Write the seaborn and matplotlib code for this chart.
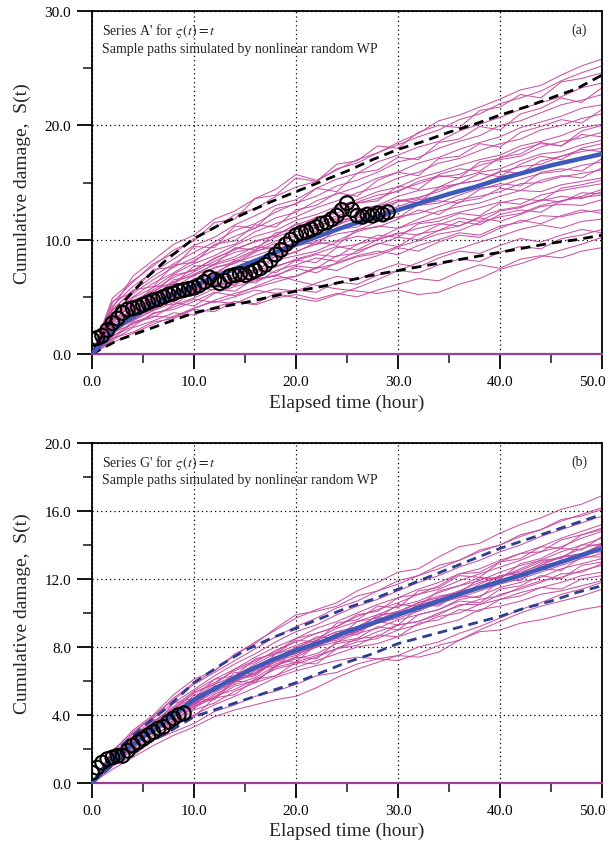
import matplotlib
matplotlib.use("Agg")
import matplotlib.pyplot as plt
from matplotlib.ticker import MultipleLocator, FormatStrFormatter
from matplotlib.transforms import ScaledTranslation
import pandas as pd
import seaborn as sns

# ---------------- data ----------------
T_PATH = [0, 2, 4, 6, 8, 10, 12, 14, 16, 18, 20, 22, 24, 26, 28, 30,
          32, 34, 36, 38, 40, 42, 44, 46, 48, 50]

A_PATHS = [
    [0, 1.2, 2.3, 2.9, 3.6, 3.4, 4.1, 4.6, 4.3, 4.9, 5.2, 4.8, 5.3, 5.0, 5.6, 6.1, 6.6, 6.4, 7.2, 7.8, 7.5, 8.3, 8.6, 8.4, 9.0, 9.3],
    [0, 1.5, 2.8, 3.3, 3.2, 4.0, 4.6, 4.4, 5.2, 5.7, 5.5, 6.2, 6.8, 6.5, 7.3, 7.9, 7.6, 8.4, 9.0, 8.8, 9.5, 10.1, 9.8, 10.4, 10.9, 10.6],
    [0, 1.9, 2.6, 3.5, 4.1, 4.8, 4.5, 5.0, 5.6, 5.3, 4.9, 4.6, 5.2, 5.8, 6.5, 7.3, 8.0, 8.7, 9.2, 9.8, 10.3, 10.9, 11.3, 11.0, 11.6, 11.8],
    [0, 2.0, 2.9, 3.8, 4.5, 4.2, 5.3, 5.9, 6.4, 6.9, 7.5, 7.1, 8.0, 8.6, 9.0, 8.7, 9.5, 10.0, 10.6, 10.4, 11.2, 11.5, 12.1, 12.0, 12.4, 12.6],
    [0, 1.7, 3.2, 3.9, 4.8, 5.4, 5.9, 6.5, 6.2, 7.3, 7.8, 8.4, 8.1, 9.0, 9.6, 10.2, 10.0, 10.8, 11.2, 11.9, 11.6, 12.2, 12.9, 13.1, 13.0, 13.5],
    [0, 2.3, 3.1, 4.2, 4.8, 5.6, 6.1, 6.0, 7.1, 7.6, 8.3, 8.8, 9.4, 9.1, 10.0, 10.5, 11.0, 11.4, 11.2, 12.0, 12.6, 12.9, 13.4, 13.8, 13.6, 14.2],
    [0, 2.6, 3.5, 4.0, 5.1, 5.7, 6.5, 7.0, 7.3, 8.2, 8.6, 9.0, 9.8, 10.3, 10.1, 11.0, 11.5, 11.9, 12.4, 12.8, 13.3, 13.1, 13.9, 14.3, 14.6, 14.9],
    [0, 2.1, 3.6, 4.5, 5.0, 6.1, 6.6, 7.4, 8.0, 8.2, 9.0, 9.6, 9.9, 10.7, 11.2, 11.0, 11.8, 12.5, 12.9, 13.2, 13.8, 14.3, 14.2, 14.8, 15.1, 15.4],
    [0, 2.4, 3.4, 4.6, 5.5, 6.0, 7.0, 7.6, 8.3, 8.5, 9.4, 9.9, 10.5, 10.8, 11.6, 12.0, 12.3, 12.9, 13.5, 13.8, 14.2, 14.9, 15.0, 15.5, 15.8, 16.1],
    [0, 2.8, 3.9, 4.7, 5.9, 6.4, 7.1, 8.0, 8.6, 9.2, 9.6, 10.4, 10.9, 11.4, 11.8, 12.5, 13.0, 13.2, 13.9, 14.5, 14.7, 15.3, 15.8, 16.0, 16.5, 16.8],
    [0, 2.5, 4.0, 5.2, 5.8, 6.9, 7.5, 8.1, 9.0, 9.4, 10.1, 10.5, 11.3, 11.9, 12.2, 12.9, 13.5, 13.8, 14.4, 14.8, 15.5, 15.8, 16.4, 16.7, 17.2, 17.5],
    [0, 3.0, 4.2, 5.0, 6.2, 7.0, 7.8, 8.3, 9.1, 9.9, 10.3, 11.0, 11.7, 12.0, 12.8, 13.3, 13.6, 14.4, 14.9, 15.2, 15.9, 16.4, 16.6, 17.3, 17.7, 18.0],
    [0, 2.9, 4.4, 5.5, 6.3, 7.2, 8.1, 8.9, 9.3, 10.2, 10.9, 11.3, 12.1, 12.6, 13.0, 13.8, 14.3, 14.6, 15.4, 15.9, 16.2, 16.9, 17.5, 17.7, 18.3, 18.7],
    [0, 3.3, 4.6, 5.6, 6.7, 7.4, 8.3, 9.2, 9.8, 10.4, 11.3, 11.9, 12.3, 13.2, 13.6, 14.3, 14.9, 15.5, 15.7, 16.5, 17.0, 17.3, 18.1, 18.6, 18.9, 19.4],
    [0, 3.1, 4.9, 5.8, 7.0, 7.9, 8.6, 9.5, 10.3, 10.8, 11.7, 12.2, 12.9, 13.5, 14.2, 14.6, 15.4, 15.9, 16.5, 17.0, 17.4, 18.2, 18.6, 19.1, 19.8, 20.1],
    [0, 3.6, 5.0, 6.2, 7.1, 8.2, 9.1, 9.6, 10.7, 11.4, 12.0, 12.8, 13.4, 14.1, 14.6, 15.4, 15.9, 16.7, 17.1, 17.8, 18.4, 18.8, 19.6, 20.0, 20.6, 21.0],
    [0, 3.4, 5.3, 6.5, 7.6, 8.4, 9.5, 10.3, 11.0, 11.9, 12.4, 13.4, 14.0, 14.6, 15.4, 15.9, 16.7, 17.2, 17.9, 18.5, 19.0, 19.8, 20.3, 20.8, 21.5, 21.8],
    [0, 3.9, 5.5, 6.8, 7.9, 8.9, 9.8, 10.8, 11.4, 12.4, 13.2, 13.8, 14.7, 15.2, 15.9, 16.8, 17.2, 18.0, 18.6, 19.1, 20.0, 20.4, 21.1, 21.8, 22.2, 22.7],
    [0, 4.2, 5.9, 7.2, 8.3, 9.5, 10.2, 11.3, 12.1, 13.0, 13.5, 14.5, 15.3, 15.8, 16.8, 17.4, 18.1, 18.6, 19.5, 20.1, 20.7, 21.4, 22.0, 22.5, 23.3, 23.7],
    [0, 4.5, 6.3, 7.9, 8.8, 10.1, 11.0, 12.2, 12.7, 13.8, 14.6, 15.1, 16.2, 16.7, 17.6, 18.3, 19.0, 19.6, 20.5, 21.0, 21.9, 22.4, 23.0, 23.9, 24.6, 25.2],
    [0, 4.0, 6.8, 8.2, 9.6, 10.4, 11.8, 12.5, 13.6, 14.4, 15.7, 15.2, 16.1, 17.0, 17.6, 18.5, 19.3, 20.4, 20.9, 21.6, 22.3, 23.1, 23.5, 24.4, 25.2, 25.8],
    [0, 1.0, 1.8, 2.6, 3.3, 4.0, 4.7, 5.3, 5.8, 6.3, 6.8, 7.5, 7.9, 8.5, 8.8, 9.4, 9.9, 10.5, 10.8, 11.5, 12.0, 12.3, 13.0, 13.4, 13.8, 14.4],
    [0, 2.2, 3.0, 3.8, 4.9, 5.5, 6.0, 6.7, 6.5, 6.9, 6.4, 6.0, 5.7, 5.5, 5.3, 5.6, 5.2, 5.4, 6.1, 6.6, 7.4, 7.9, 8.5, 9.1, 9.6, 10.2],
    [0, 1.6, 2.4, 3.6, 3.9, 4.6, 5.4, 5.1, 5.9, 6.6, 6.8, 7.6, 7.3, 8.1, 8.6, 9.3, 9.0, 9.8, 10.4, 10.2, 11.0, 11.7, 11.4, 12.1, 12.6, 12.3],
    [0, 2.4, 2.9, 4.3, 4.6, 5.8, 5.6, 6.7, 7.4, 7.1, 8.2, 8.7, 8.5, 9.6, 10.0, 10.6, 10.4, 11.3, 11.9, 11.6, 12.5, 12.8, 13.5, 13.3, 14.1, 14.0],
    [0, 1.9, 3.8, 4.1, 5.6, 5.4, 6.8, 7.3, 7.1, 8.6, 8.9, 9.8, 9.5, 10.9, 11.1, 11.8, 12.6, 12.2, 13.3, 13.6, 14.5, 14.3, 15.2, 15.6, 15.4, 16.3],
    [0, 3.1, 3.6, 5.1, 5.3, 6.6, 6.9, 8.2, 8.0, 9.1, 9.8, 9.6, 10.9, 11.1, 12.1, 11.9, 13.1, 13.4, 13.2, 14.4, 14.9, 14.7, 15.9, 16.2, 16.0, 17.1],
    [0, 2.7, 4.5, 4.8, 6.5, 6.8, 7.9, 8.5, 9.4, 9.2, 10.7, 11.1, 11.9, 11.6, 12.9, 13.5, 13.2, 14.6, 14.9, 15.8, 15.5, 16.6, 17.3, 17.0, 18.0, 18.4],
    [0, 3.5, 4.1, 5.9, 6.1, 7.7, 7.8, 9.3, 9.1, 10.6, 10.9, 12.0, 11.7, 13.2, 13.4, 14.7, 14.4, 15.7, 16.2, 16.0, 17.2, 17.5, 18.5, 18.2, 19.2, 19.0],
    [0, 3.8, 5.6, 5.9, 7.8, 8.0, 9.6, 9.9, 11.3, 11.1, 12.6, 13.0, 14.1, 13.8, 15.2, 15.9, 15.6, 17.1, 17.3, 18.4, 18.1, 19.4, 19.9, 20.5, 20.2, 21.4],
    [0, 4.6, 5.4, 7.4, 7.6, 9.4, 9.3, 11.2, 11.0, 12.7, 13.1, 14.5, 14.2, 15.8, 16.1, 17.2, 17.0, 18.5, 18.8, 19.9, 19.6, 21.0, 21.5, 22.4, 22.0, 23.3],
    [0, 4.9, 6.4, 7.7, 9.1, 9.9, 11.5, 11.8, 13.6, 13.9, 15.4, 15.1, 16.6, 16.9, 18.2, 18.0, 19.4, 20.0, 19.8, 21.3, 21.6, 22.7, 22.4, 23.8, 24.1, 24.6],
    [0, 1.4, 1.9, 2.8, 3.1, 3.9, 3.7, 4.6, 4.4, 5.3, 5.6, 5.4, 6.3, 6.1, 6.9, 7.3, 7.1, 7.8, 8.3, 8.1, 8.9, 9.4, 9.2, 10.1, 10.4, 10.9],
    [0, 2.2, 3.9, 4.6, 6.1, 6.3, 7.6, 7.9, 8.9, 9.7, 9.5, 10.8, 11.2, 12.3, 12.0, 13.4, 13.7, 14.2, 14.9, 15.2, 16.0, 15.8, 16.9, 17.3, 17.9, 17.7],
    [0, 2.0, 3.1, 4.4, 4.3, 5.5, 6.2, 6.1, 7.3, 7.7, 8.2, 8.0, 9.3, 9.6, 10.4, 10.2, 11.4, 11.6, 12.3, 12.1, 13.2, 13.6, 13.4, 14.5, 14.8, 15.2],
    [0, 3.2, 4.7, 5.3, 6.9, 7.3, 8.4, 9.1, 9.9, 10.3, 11.4, 11.2, 12.8, 13.3, 13.9, 14.2, 15.1, 15.6, 15.4, 16.8, 17.1, 17.9, 18.4, 18.2, 19.5, 20.0],
    [0, 1.3, 2.7, 3.2, 4.3, 4.9, 5.7, 5.5, 6.6, 6.8, 7.7, 7.5, 8.6, 8.8, 9.7, 9.4, 10.5, 10.8, 11.6, 11.3, 12.2, 12.6, 12.4, 13.4, 13.7, 13.9],
]

B_PATHS = [
    [0, 1.0, 1.6, 2.5, 3.0, 3.5, 4.2, 4.6, 5.1, 5.4, 5.8, 6.3, 6.5, 7.0, 7.3, 7.2, 7.6, 8.1, 8.4, 8.9, 9.0, 9.4, 9.6, 9.9, 10.2, 10.4],
    [0, 1.1, 1.9, 2.6, 3.4, 4.0, 4.6, 5.1, 5.6, 6.2, 6.6, 6.9, 7.2, 7.4, 7.3, 7.5, 7.4, 7.7, 8.4, 9.0, 9.5, 10.0, 10.4, 10.7, 11.0, 11.4],
    [0, 1.2, 2.0, 2.8, 3.5, 4.3, 4.7, 5.4, 5.9, 6.3, 6.8, 7.2, 7.6, 8.0, 8.2, 8.6, 9.0, 9.3, 9.6, 10.2, 10.4, 10.7, 11.1, 11.3, 11.6, 11.9],
    [0, 1.0, 2.2, 3.0, 3.7, 4.4, 5.1, 5.5, 6.1, 6.7, 7.0, 7.4, 7.9, 8.3, 8.5, 9.0, 9.3, 9.8, 10.0, 10.5, 10.8, 11.2, 11.5, 11.8, 12.2, 12.4],
    [0, 1.3, 2.1, 3.1, 3.9, 4.5, 5.2, 5.8, 6.2, 6.9, 7.3, 7.6, 8.2, 8.4, 8.9, 9.3, 9.5, 10.0, 10.4, 10.8, 11.0, 11.5, 11.9, 12.1, 12.5, 12.8],
    [0, 1.2, 2.3, 3.2, 3.8, 4.7, 5.3, 6.0, 6.5, 7.0, 7.4, 8.0, 8.3, 8.8, 9.1, 9.6, 9.9, 10.2, 10.8, 11.0, 11.5, 11.8, 12.1, 12.6, 12.9, 13.2],
    [0, 1.4, 2.2, 3.0, 4.1, 4.8, 5.4, 5.9, 6.6, 7.1, 7.7, 8.0, 8.5, 8.9, 9.4, 9.7, 10.1, 10.6, 10.9, 11.3, 11.7, 12.0, 12.4, 12.8, 13.2, 13.5],
    [0, 1.3, 2.4, 3.3, 4.0, 4.9, 5.6, 6.1, 6.7, 7.4, 7.8, 8.3, 8.6, 9.2, 9.5, 10.0, 10.3, 10.7, 11.2, 11.5, 11.9, 12.3, 12.6, 13.1, 13.4, 13.8],
    [0, 1.5, 2.3, 3.4, 4.2, 5.0, 5.5, 6.3, 6.9, 7.3, 8.0, 8.4, 8.9, 9.2, 9.8, 10.1, 10.6, 10.9, 11.3, 11.8, 12.1, 12.5, 13.0, 13.3, 13.8, 14.1],
    [0, 1.4, 2.5, 3.3, 4.4, 5.0, 5.8, 6.3, 7.0, 7.6, 8.1, 8.5, 9.1, 9.5, 9.9, 10.4, 10.7, 11.2, 11.6, 11.9, 12.4, 12.8, 13.1, 13.6, 14.0, 14.4],
    [0, 1.5, 2.6, 3.5, 4.3, 5.3, 5.9, 6.6, 7.1, 7.8, 8.3, 8.8, 9.2, 9.8, 10.2, 10.6, 11.1, 11.4, 11.9, 12.3, 12.7, 13.1, 13.6, 13.9, 14.4, 14.8],
    [0, 1.6, 2.5, 3.6, 4.5, 5.4, 6.1, 6.7, 7.4, 8.0, 8.5, 9.1, 9.5, 10.0, 10.5, 10.9, 11.4, 11.8, 12.3, 12.6, 13.1, 13.5, 13.9, 14.4, 14.8, 15.2],
    [0, 1.5, 2.7, 3.8, 4.7, 5.5, 6.3, 7.0, 7.6, 8.3, 8.9, 9.3, 9.9, 10.4, 10.8, 11.3, 11.8, 12.2, 12.7, 13.1, 13.6, 14.0, 14.5, 14.9, 15.3, 15.7],
    [0, 1.7, 2.9, 3.9, 4.9, 5.8, 6.5, 7.2, 7.9, 8.6, 9.2, 9.7, 10.3, 10.7, 11.3, 11.7, 12.2, 12.6, 13.1, 13.6, 14.0, 14.5, 14.9, 15.4, 15.8, 16.2],
    [0, 1.8, 3.1, 4.0, 5.2, 6.1, 6.6, 7.5, 8.3, 9.0, 9.7, 10.2, 10.6, 11.3, 11.8, 12.4, 12.6, 13.3, 13.9, 14.1, 14.7, 15.2, 15.6, 16.1, 16.4, 16.9],
    [0, 0.8, 1.5, 2.2, 2.8, 3.3, 3.9, 4.3, 4.6, 4.9, 5.1, 5.6, 6.2, 6.7, 7.1, 7.5, 8.0, 8.3, 8.8, 9.2, 9.7, 10.2, 10.6, 11.1, 11.4, 11.8],
    [0, 1.1, 2.4, 3.4, 4.3, 4.6, 5.6, 6.0, 6.4, 7.2, 7.5, 8.1, 8.7, 8.9, 9.6, 9.8, 10.5, 10.8, 11.0, 11.7, 12.2, 12.4, 12.8, 13.3, 13.5, 14.0],
    [0, 1.0, 2.2, 2.6, 3.7, 3.9, 5.0, 5.2, 6.1, 6.3, 7.1, 7.0, 7.9, 8.1, 8.7, 8.6, 9.4, 9.6, 10.2, 10.1, 10.8, 11.0, 11.5, 11.4, 12.0, 12.2],
    [0, 1.5, 2.0, 3.3, 3.5, 4.7, 4.9, 6.0, 5.9, 6.9, 7.4, 7.3, 8.3, 8.5, 9.2, 9.0, 9.9, 10.2, 10.7, 10.6, 11.4, 11.6, 12.2, 12.0, 12.8, 13.0],
    [0, 1.2, 2.6, 3.0, 4.3, 4.5, 5.7, 5.9, 6.9, 6.8, 7.9, 8.1, 8.8, 8.7, 9.7, 9.8, 10.5, 10.4, 11.3, 11.5, 12.0, 11.9, 12.8, 13.0, 13.5, 13.6],
    [0, 1.7, 2.3, 3.7, 3.9, 5.2, 5.4, 6.5, 6.4, 7.6, 7.9, 8.6, 8.5, 9.5, 9.7, 10.5, 10.4, 11.3, 11.6, 12.1, 12.0, 12.9, 13.2, 13.8, 13.7, 14.5],
    [0, 1.4, 2.9, 3.3, 4.7, 5.0, 6.1, 6.3, 7.3, 7.6, 8.4, 8.3, 9.4, 9.6, 10.4, 10.3, 11.3, 11.5, 12.2, 12.1, 13.0, 13.2, 13.9, 13.8, 14.6, 15.0],
    [0, 1.9, 3.0, 3.9, 5.0, 5.9, 6.6, 7.6, 8.2, 9.1, 9.9, 10.1, 10.4, 11.0, 11.3, 11.9, 12.2, 12.8, 13.1, 13.7, 14.0, 14.6, 14.9, 15.5, 15.7, 16.1],
    [0, 1.1, 2.4, 2.9, 3.9, 4.8, 5.0, 6.1, 6.3, 7.2, 7.1, 8.2, 8.4, 8.9, 9.5, 9.3, 10.3, 10.5, 11.0, 10.9, 11.9, 12.1, 12.6, 12.5, 13.3, 13.3],
    [0, 1.6, 2.2, 3.5, 4.1, 4.7, 5.7, 6.0, 6.8, 7.4, 7.6, 8.4, 8.9, 9.0, 9.9, 10.0, 10.6, 11.0, 11.2, 12.0, 12.1, 12.6, 13.1, 13.2, 14.0, 14.0],
    [0, 1.2, 2.1, 3.1, 3.6, 4.5, 5.0, 5.7, 6.0, 6.8, 7.1, 7.5, 7.9, 8.5, 8.6, 9.3, 9.5, 9.9, 10.5, 10.5, 11.1, 11.4, 11.8, 12.3, 12.4, 12.9],
    [0, 1.3, 2.7, 3.6, 4.4, 5.3, 5.8, 6.7, 7.2, 7.7, 8.5, 8.8, 9.2, 9.9, 10.1, 10.9, 11.1, 11.6, 12.3, 12.4, 13.0, 13.5, 13.6, 14.3, 14.6, 14.9],
    [0, 1.4, 2.1, 3.4, 4.2, 4.6, 5.5, 6.2, 6.4, 7.3, 7.6, 8.0, 8.8, 8.9, 9.6, 10.1, 10.1, 10.9, 11.2, 11.5, 12.2, 12.3, 12.9, 13.3, 13.4, 14.1],
]

T_CURVE = [0, 2.5, 5, 7.5, 10, 12.5, 15, 17.5, 20, 22.5, 25, 27.5, 30,
           32.5, 35, 37.5, 40, 42.5, 45, 47.5, 50]
A_MEAN = [0, 2.4, 3.8, 5.0, 6.0, 6.9, 7.8, 8.7, 9.6, 10.4, 11.2, 11.9, 12.6,
          13.3, 14.0, 14.6, 15.3, 15.9, 16.5, 17.0, 17.5]
A_UPPER = [0, 4.0, 6.4, 8.4, 10.1, 11.3, 12.3, 13.3, 14.2, 15.1, 16.0, 17.0,
           17.9, 18.6, 19.4, 20.1, 20.9, 21.6, 22.4, 23.2, 24.4]
A_LOWER = [0, 1.2, 2.0, 2.8, 3.6, 4.1, 4.5, 5.0, 5.5, 5.9, 6.4, 6.9, 7.3,
           7.7, 8.1, 8.5, 8.9, 9.3, 9.7, 10.0, 10.4]
B_MEAN = [0, 1.6, 2.7, 3.8, 4.9, 5.7, 6.5, 7.2, 7.8, 8.3, 8.9, 9.4, 9.9,
          10.4, 10.9, 11.4, 11.85, 12.3, 12.8, 13.3, 13.8]
B_UPPER = [0, 2.0, 3.3, 4.5, 5.9, 6.9, 7.8, 8.5, 9.1, 9.7, 10.3, 10.8, 11.4,
           12.0, 12.6, 13.2, 13.8, 14.3, 14.8, 15.3, 15.8]
B_LOWER = [0, 1.3, 2.2, 3.0, 3.9, 4.4, 4.9, 5.4, 5.9, 6.5, 7.1, 7.6, 8.2,
           8.6, 9.0, 9.4, 9.8, 10.3, 10.7, 11.2, 11.6]

A_OBS_T = [0.0, 0.5, 1.0, 1.5, 2.0, 2.5, 3.0, 3.5, 4.0, 4.5, 5.0, 5.5, 6.0,
           6.5, 7.0, 7.5, 8.0, 8.5, 9.0, 9.5, 10.0, 10.5, 11.0, 11.5, 12.0,
           12.5, 13.0, 13.5, 14.0, 14.5, 15.0, 15.5, 16.0, 16.5, 17.0, 17.5,
           18.0, 18.5, 19.0, 19.5, 20.0, 20.5, 21.0, 21.5, 22.0, 22.5, 23.0,
           23.5, 24.0, 24.5, 25.0, 25.5, 26.0, 26.5, 27.0, 27.5, 28.0, 28.5,
           29.0]
A_OBS_S = [1.3, 1.4, 1.6, 2.1, 2.7, 3.1, 3.6, 3.9, 4.0, 4.1, 4.3, 4.5, 4.7,
           4.8, 5.0, 5.2, 5.3, 5.5, 5.6, 5.7, 5.8, 6.0, 6.3, 6.7, 6.5, 6.2,
           6.4, 6.8, 6.9, 7.0, 6.9, 7.1, 7.3, 7.5, 7.8, 8.2, 8.7, 9.1, 9.6,
           10.0, 10.4, 10.6, 10.7, 10.9, 11.1, 11.4, 11.5, 11.8, 12.1, 12.6,
           13.2, 12.6, 12.1, 12.0, 12.2, 12.1, 12.3, 12.2, 12.4]
B_OBS_T = [0.0, 0.5, 1.0, 1.5, 2.0, 2.5, 3.0, 3.5, 4.0, 4.5, 5.0, 5.5, 6.0,
           6.5, 7.0, 7.5, 8.0, 8.5, 9.0]
B_OBS_S = [0.6, 0.9, 1.2, 1.4, 1.5, 1.6, 1.6, 1.9, 2.2, 2.4, 2.6, 2.8, 3.0,
           3.2, 3.3, 3.6, 3.8, 4.0, 4.1]

X_TICKS = [0, 10, 20, 30, 40, 50]
A_YTICKS = [0, 10, 20, 30]
B_YTICKS = [0, 4, 8, 12, 16, 20]

# ---------------- style ----------------
sns.set_style("ticks")
plt.rcParams["font.family"] = ["Liberation Serif", "DejaVu Serif"]
plt.rcParams["mathtext.fontset"] = "stix"

PATH_COLOR = "#c64a9f"
BLUE = "#3d5ab8"
NAVY = "#2c3f8c"
AXIS_PURPLE = "#9a3f92"

fig = plt.figure(figsize=(6.13, 8.54), dpi=100)
ax_a = fig.add_axes([0.1501, 0.5843, 0.8320, 0.4016])
ax_b = fig.add_axes([0.1501, 0.0820, 0.8320, 0.3981])


def long_frame(paths):
    rows = []
    for k, p in enumerate(paths):
        for t, s in zip(T_PATH, p):
            rows.append({"path": k, "t": t, "S": s})
    return pd.DataFrame(rows)


def draw(ax, paths, mean, upper, lower, obs_t, obs_s, dash_color,
         ylim, yticks, yminor, series_txt, tag):
    df = long_frame(paths)
    sns.lineplot(data=df, x="t", y="S", units="path", estimator=None,
                 color=PATH_COLOR, lw=0.75, alpha=0.95, sort=False,
                 legend=False, ax=ax, zorder=2)
    for band in (upper, lower):
        sns.lineplot(x=T_CURVE, y=band, color=dash_color, lw=2.0,
                     linestyle=(0, (3.5, 2.2)), ax=ax, zorder=4)
    sns.lineplot(x=T_CURVE, y=mean, color=BLUE, lw=3.2, ax=ax, zorder=5)
    sns.scatterplot(x=obs_t, y=obs_s, marker="o", s=100, color="black",
                    linewidth=1.5, ax=ax, zorder=6)
    coll = ax.collections[-1]
    coll.set_facecolor("none")
    coll.set_edgecolor("black")

    ax.set_xlim(0, 50)
    ax.set_ylim(*ylim)
    ax.set_xticks(X_TICKS)
    ax.set_yticks(yticks)
    ax.xaxis.set_minor_locator(MultipleLocator(5))
    ax.yaxis.set_minor_locator(MultipleLocator(yminor))
    ax.xaxis.set_major_formatter(FormatStrFormatter("%.1f"))
    ax.yaxis.set_major_formatter(FormatStrFormatter("%.1f"))
    ax.tick_params(which="major", direction="out", length=11, width=1.3,
                   labelsize=11, colors="black", pad=4)
    ax.tick_params(which="minor", direction="out", length=6.5, width=1.2)
    ax.grid(True, which="major", color="black", lw=0.9,
            linestyle=(0, (1, 2.5)))
    ax.set_axisbelow(True)
    for side in ("left", "top", "right"):
        ax.spines[side].set_color("black")
        ax.spines[side].set_linewidth(1.3)
    ax.spines["bottom"].set_color(AXIS_PURPLE)
    ax.spines["bottom"].set_linewidth(1.6)

    ax.set_xlabel("Elapsed time (hour)", fontsize=14)
    ax.set_ylabel("Cumulative damage,  S(t)", fontsize=14)
    ax.xaxis.set_label_coords(0.5, -0.14)
    ax.xaxis.label.set_va("center")
    ax.yaxis.set_label_coords(-0.137, 0.5)
    ax.yaxis.label.set_va("center")

    ax.text(0.0196, 0.945, series_txt, transform=ax.transAxes,
            fontsize=10, va="center", ha="left")
    ax.text(0.0196, 0.892, "Sample paths simulated by nonlinear random WP",
            transform=ax.transAxes, fontsize=10, va="center", ha="left")
    ax.text(0.955, 0.947, tag, transform=ax.transAxes, fontsize=10,
            va="center", ha="center")


draw(ax_a, A_PATHS, A_MEAN, A_UPPER, A_LOWER, A_OBS_T, A_OBS_S, "black",
     (0, 30), A_YTICKS, 5, r"Series A' for $\varsigma\,(t) = t$", "(a)")
draw(ax_b, B_PATHS, B_MEAN, B_UPPER, B_LOWER, B_OBS_T, B_OBS_S, NAVY,
     (0, 20), B_YTICKS, 2, r"Series G' for $\varsigma\,(t) = t$", "(b)")

# keep the last x tick label inside the canvas
fig.canvas.draw()
shift = ScaledTranslation(-10 / 100, 0, fig.dpi_scale_trans)
for ax in (ax_a, ax_b):
    last = ax.get_xticklabels()[-1]
    last.set_transform(last.get_transform() + shift)

fig.savefig("out.png", dpi=100)
